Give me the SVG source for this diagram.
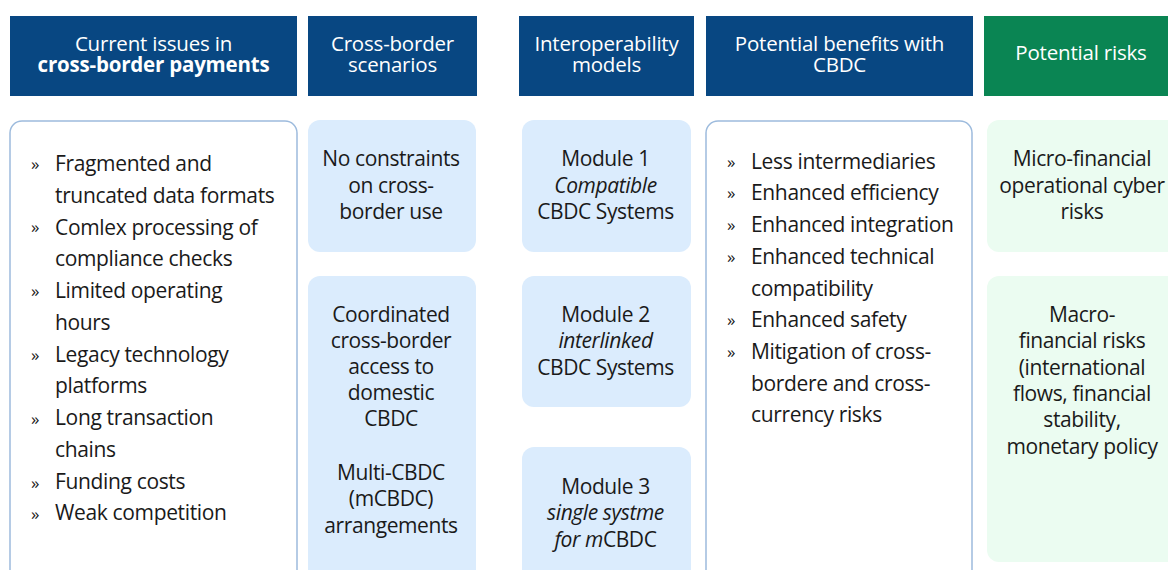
<svg xmlns="http://www.w3.org/2000/svg" width="1168" height="570" viewBox="0 0 1168 570">
<style>
.hb{fill:#084782}
.hg{fill:#0a8553}
.ht{font-family:"Open Sans","Liberation Sans",sans-serif;font-size:20.5px;fill:#ffffff;text-anchor:middle;letter-spacing:-0.2px}
.bold{font-weight:bold}
.lb{fill:#dbecfd}
.lg{fill:#ebfcf1}
.ob{fill:#ffffff;stroke:#9dbbdd;stroke-width:1.5}
.t{font-family:"Open Sans","Liberation Sans",sans-serif;font-size:21px;fill:#1a1a1a;letter-spacing:-0.4px}
.c{text-anchor:middle}
.li{font-family:"Open Sans","Liberation Sans",sans-serif;font-size:21px;fill:#1a1a1a;letter-spacing:-0.35px}
.bu{font-family:"Open Sans","Liberation Sans",sans-serif;font-size:17px;fill:#1a1a1a}
.i{font-style:italic}
</style>
<rect width="1168" height="570" fill="#ffffff"/>
<g id="header-issues">
<rect class="hb" x="10" y="16" width="287" height="80"/>
<text class="ht" x="153.5" y="51">Current issues in</text>
<text class="ht bold" x="153.5" y="72">cross-border payments</text>
</g>
<g id="header-scenarios">
<rect class="hb" x="308" y="16" width="169" height="80"/>
<text class="ht" x="392.5" y="51">Cross-border</text>
<text class="ht" x="392.5" y="72">scenarios</text>
</g>
<g id="header-models">
<rect class="hb" x="519" y="16" width="175" height="80"/>
<text class="ht" x="606.5" y="51">Interoperability</text>
<text class="ht" x="606.5" y="72">models</text>
</g>
<g id="header-benefits">
<rect class="hb" x="706" y="16" width="267" height="80"/>
<text class="ht" x="839.5" y="51">Potential benefits with</text>
<text class="ht" x="839.5" y="72">CBDC</text>
</g>
<g id="header-risks">
<rect class="hg" x="984" y="16" width="196" height="80"/>
<text class="ht" x="1081" y="60">Potential risks</text>
</g>
<g id="issues">
<rect class="ob" x="10" y="121" width="287" height="470" rx="12"/>
<g class="bu"><text x="31" y="170">»</text><text x="31" y="233">»</text><text x="31" y="297">»</text><text x="31" y="361">»</text><text x="31" y="425">»</text><text x="31" y="489">»</text><text x="31" y="520">»</text></g>
<g class="li">
<text x="55" y="171">Fragmented and</text>
<text x="55" y="203">truncated data formats</text>
<text x="55" y="235">Comlex processing of</text>
<text x="55" y="266">compliance checks</text>
<text x="55" y="298">Limited operating</text>
<text x="55" y="330">hours</text>
<text x="55" y="362">Legacy technology</text>
<text x="55" y="393">platforms</text>
<text x="55" y="425">Long transaction</text>
<text x="55" y="457">chains</text>
<text x="55" y="489">Funding costs</text>
<text x="55" y="520">Weak competition</text>
</g>
</g>
<g id="scenario-none">
<rect class="lb" x="308" y="120" width="168" height="132" rx="12"/>
<text class="t c" x="391" y="166">No constraints</text>
<text class="t c" x="391" y="193">on cross-</text>
<text class="t c" x="391" y="219">border use</text>
</g>
<g id="scenario-coordinated">
<rect class="lb" x="308" y="276" width="168" height="320" rx="12"/>
<text class="t c" x="391" y="322">Coordinated</text>
<text class="t c" x="391" y="348">cross-border</text>
<text class="t c" x="391" y="374">access to</text>
<text class="t c" x="391" y="400">domestic</text>
<text class="t c" x="391" y="426">CBDC</text>
<text class="t c" x="391" y="480">Multi-CBDC</text>
<text class="t c" x="391" y="506">(mCBDC)</text>
<text class="t c" x="391" y="533">arrangements</text>
</g>
<g id="module-1">
<rect class="lb" x="522" y="120" width="169" height="132" rx="12"/>
<text class="t c" x="605.5" y="166">Module 1</text>
<text class="t c i" x="605.5" y="193">Compatible</text>
<text class="t c" x="605.5" y="219">CBDC Systems</text>
</g>
<g id="module-2">
<rect class="lb" x="522" y="276" width="169" height="131" rx="12"/>
<text class="t c" x="605.5" y="322">Module 2</text>
<text class="t c i" x="605.5" y="348">interlinked</text>
<text class="t c" x="605.5" y="375">CBDC Systems</text>
</g>
<g id="module-3">
<rect class="lb" x="522" y="447" width="169" height="150" rx="12"/>
<text class="t c" x="605.5" y="494">Module 3</text>
<text class="t c i" x="605.5" y="520">single systme</text>
<text class="t c" x="605.5" y="547"><tspan class="i">for m</tspan>CBDC</text>
</g>
<g id="benefits">
<rect class="ob" x="706" y="121" width="266" height="470" rx="12"/>
<g class="bu"><text x="727" y="168">»</text><text x="727" y="199">»</text><text x="727" y="231">»</text><text x="727" y="263">»</text><text x="727" y="326">»</text><text x="727" y="358">»</text></g>
<g class="li">
<text x="751" y="169">Less intermediaries</text>
<text x="751" y="200">Enhanced efficiency</text>
<text x="751" y="232">Enhanced integration</text>
<text x="751" y="264">Enhanced technical</text>
<text x="751" y="296">compatibility</text>
<text x="751" y="327">Enhanced safety</text>
<text x="751" y="359">Mitigation of cross-</text>
<text x="751" y="391">bordere and cross-</text>
<text x="751" y="422">currency risks</text>
</g>
</g>
<g id="risk-micro">
<rect class="lg" x="987" y="120" width="195" height="132" rx="12"/>
<text class="t c" x="1082" y="166">Micro-financial</text>
<text class="t c" x="1082" y="193">operational cyber</text>
<text class="t c" x="1082" y="219">risks</text>
</g>
<g id="risk-macro">
<rect class="lg" x="987" y="276" width="195" height="286" rx="12"/>
<text class="t c" x="1082" y="322">Macro-</text>
<text class="t c" x="1082" y="348">financial risks</text>
<text class="t c" x="1082" y="375">(international</text>
<text class="t c" x="1082" y="401">flows, financial</text>
<text class="t c" x="1082" y="427">stability,</text>
<text class="t c" x="1082" y="454">monetary policy</text>
</g>
<g id="connectors"></g>
</svg>
